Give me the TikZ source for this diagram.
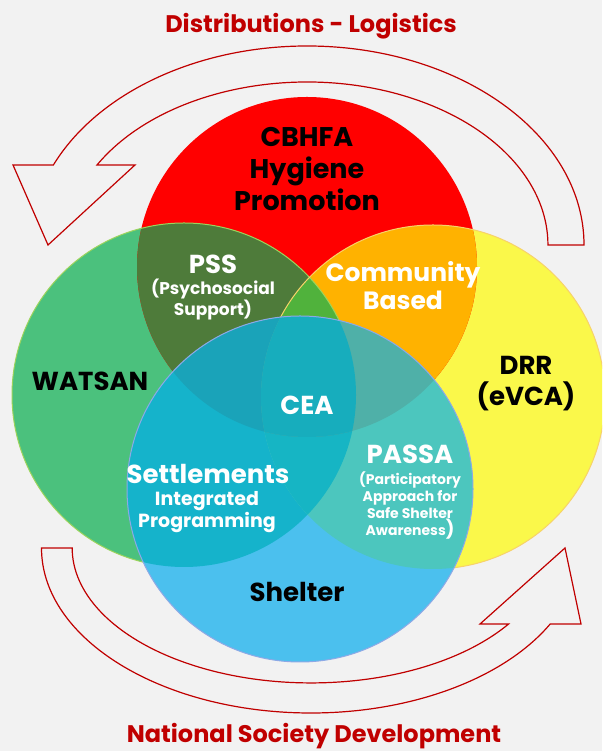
\documentclass[tikz,border=0pt]{standalone}
\usepackage{fontspec}
\setmainfont{Poppins}
\usepackage{xcolor}
\usepackage{tikz}
\usetikzlibrary{positioning}
\definecolor{bgcol}{HTML}{F2F2F2}
\definecolor{darkred}{HTML}{C00000}
\definecolor{cred}{HTML}{FF0000}
\definecolor{cgreen}{HTML}{4BC17D}
\definecolor{cyellow}{HTML}{FAF84A}
\definecolor{cblue}{HTML}{4BC0EE}
\definecolor{rgolive}{HTML}{4E7B3A}
\definecolor{ryorange}{HTML}{FFB200}
\definecolor{rgylime}{HTML}{50B23C}
\definecolor{bgteal}{HTML}{15B3CB}
\definecolor{byaqua}{HTML}{4CC6BE}
\definecolor{bgyteal}{HTML}{16B5C4}
\definecolor{brgteal}{HTML}{1AA3B9}
\definecolor{bryteal}{HTML}{4FB0A8}
\definecolor{allteal}{HTML}{17ADBD}
\definecolor{edgegreen}{HTML}{9CD45C}
\definecolor{edgeyellow}{HTML}{F7D26A}
\definecolor{edgeblue}{HTML}{8DA9E6}
\newcommand{\redcirc}{(307,484) circle[radius=170]}
\newcommand{\greencirc}{(184,356) circle[radius=172]}
\newcommand{\yellowcirc}{(433,354) circle[radius=172]}
\newcommand{\bluecirc}{(300,262) circle[radius=173]}
\begin{document}
\begin{tikzpicture}[x=1pt,y=1pt,
  lblbig/.style={font=\bfseries\fontsize{26}{31}\selectfont,align=center,inner sep=0pt},
  lblmid/.style={font=\bfseries\fontsize{19}{22}\selectfont,align=center,inner sep=0pt,text=white},
  lblsmall/.style={font=\bfseries\fontsize{14}{17}\selectfont,align=center,inner sep=0pt,text=white},
  headline/.style={font=\bfseries\fontsize{24}{28}\selectfont,text=darkred,anchor=base},
  band/.style={draw=darkred,line width=1.2pt,fill=bgcol,line join=miter}
]
\useasboundingbox (0,0) rectangle (602,751);
\fill[bgcol] (0,0) rectangle (602,751);
\clip (0,0) rectangle (602,751);
% cycle arrows
\draw[band] (584,506) arc[start angle=0,end angle=156.3,x radius=277,y radius=199]
  -- (13,586) -- (48,506) -- (135,586) -- (97,586)
  arc[start angle=150.6,end angle=0,x radius=241,y radius=163] -- cycle;
\draw[band] (41.5,203) arc[start angle=180,end angle=332.6,x radius=269.5,y radius=165]
  -- (581,127) -- (565,203) -- (480,127) -- (508.6,127)
  arc[start angle=325.7,end angle=180,x radius=239,y radius=135] -- cycle;
% circles and overlaps
\fill[cgreen] \greencirc;
\fill[cyellow] \yellowcirc;
\fill[cred] \redcirc;
\begin{scope}\clip \redcirc; \fill[rgolive] \greencirc; \fill[ryorange] \yellowcirc; \end{scope}
\begin{scope}\clip \redcirc; \clip \greencirc; \fill[rgylime] \yellowcirc; \end{scope}
\draw[edgegreen,line width=1pt] \greencirc;
\draw[edgeyellow,line width=1pt] \yellowcirc;
\fill[cblue] \bluecirc;
\begin{scope}\clip \bluecirc; \fill[bgteal] \greencirc; \fill[byaqua] \yellowcirc; \end{scope}
\begin{scope}\clip \bluecirc; \clip \greencirc; \fill[bgyteal] \yellowcirc; \end{scope}
\begin{scope}\clip \bluecirc; \clip \redcirc; \fill[brgteal] \greencirc; \fill[bryteal] \yellowcirc; \end{scope}
\begin{scope}\clip \bluecirc; \clip \redcirc; \clip \greencirc; \fill[allteal] \yellowcirc; \end{scope}
\draw[edgeblue,line width=1pt] \bluecirc;
% labels
\node[headline] (distrib) at (311,718) {Distributions - Logistics};
\node[headline] (nsd) at (314,9) {National Society Development};
\node[lblbig,font=\bfseries\fontsize{27}{32}\selectfont] (cbhfa) at (307,581.5) {CBHFA\\Hygiene\\Promotion};
\node[lblbig,text=white] (pss) at (213,487) {PSS};
\node[lblsmall,font=\bfseries\fontsize{17}{21}\selectfont] (psssub) at (213,451) {(Psychosocial\\Support)};
\node[lblbig,text=white,font=\bfseries\fontsize{25}{28}\selectfont] (cb) at (403,465) {Community\\Based};
\node[lblbig] (watsan) at (90,370) {WATSAN};
\node[lblbig] (drr) at (526,367) {DRR\\(eVCA)};
\node[lblbig,text=white] (cea) at (307,346) {CEA};
\node[lblbig,text=white] (passa) at (410,297) {PASSA};
\node[lblsmall] (passasub) at (410,246) {(Participatory\\Approach for\\Safe Shelter\\Awareness{\fontsize{18}{17}\selectfont)}};
\node[lblbig,text=white] (settle) at (208,277) {Settlements};
\node[lblmid] (settlesub) at (207,239) {Integrated\\Programming};
\node[lblbig] (shelter) at (297,159) {Shelter};
\end{tikzpicture}
\end{document}
